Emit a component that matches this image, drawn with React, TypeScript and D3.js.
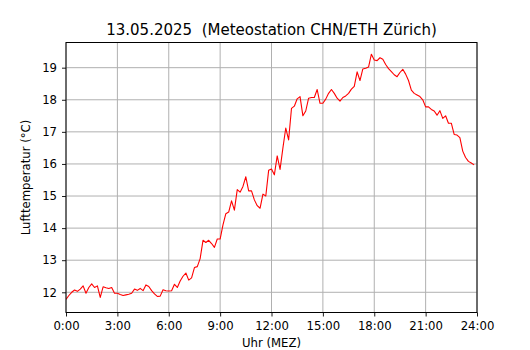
import React, { useRef, useEffect } from "react";
import * as d3 from "d3";

const WIDTH = 530;
const HEIGHT = 350;
const MARGIN = { top: 42.5, right: 53, bottom: 37.5, left: 66 };

const TITLE = "13.05.2025  (Meteostation CHN/ETH Zürich)";
const X_LABEL = "Uhr (MEZ)";
const Y_LABEL = "Lufttemperatur (°C)";

// 10-minute readings starting at 0:00
const STEP_MINUTES = 10;
const temperature = [
  11.78, 11.9, 12.0, 12.07, 12.03, 12.1, 12.2, 11.97, 12.15, 12.26, 12.15, 12.2,
  11.84, 12.17, 12.14, 12.12, 12.15, 11.97, 11.97, 11.93, 11.9, 11.92, 11.94, 11.97,
  12.1, 12.06, 12.12, 12.05, 12.23, 12.18, 12.05, 11.95, 11.87, 11.88, 12.08, 12.05,
  12.04, 12.05, 12.25, 12.15, 12.35, 12.5, 12.6, 12.38, 12.45, 12.77, 12.8, 13.05,
  13.62, 13.55, 13.62, 13.52, 13.4, 13.66, 13.66, 14.1, 14.45, 14.5, 14.85, 14.56,
  15.2, 15.12, 15.3, 15.6, 15.16, 15.16, 14.88, 14.7, 14.62, 15.06, 15.0, 15.8,
  15.84, 15.66, 16.25, 15.83, 16.5, 17.12, 16.75, 17.73, 17.8, 18.03, 18.1, 17.5,
  17.65, 18.05, 18.07, 18.07, 18.32, 17.89, 17.89, 18.02, 18.2, 18.32, 18.2, 18.05,
  17.96, 18.07, 18.12, 18.2, 18.33, 18.42, 18.87, 18.6, 18.96, 18.98, 19.02, 19.42,
  19.24, 19.22, 19.31, 19.26, 19.1, 18.97, 18.88, 18.78, 18.72, 18.85, 18.95, 18.8,
  18.6, 18.3, 18.2, 18.15, 18.1, 18.0, 17.78, 17.78, 17.7, 17.65, 17.52, 17.66,
  17.42, 17.5, 17.27, 17.27, 16.92, 16.9, 16.82, 16.4, 16.2, 16.08, 16.03, 15.97,
];

const xTicks = [0, 3, 6, 9, 12, 15, 18, 21, 24];
const yTicks = [12, 13, 14, 15, 16, 17, 18, 19];
const X_DOMAIN = [0, 24];
const Y_DOMAIN = [11.37, 19.785];

const FONT = "'DejaVu Sans', sans-serif";

export default function App() {
  const ref = useRef<SVGSVGElement>(null);

  useEffect(() => {
    const root = d3.select(ref.current);
    root.selectAll("*").remove();

    const innerWidth = WIDTH - MARGIN.left - MARGIN.right;
    const innerHeight = HEIGHT - MARGIN.top - MARGIN.bottom;

    const x = d3.scaleLinear().domain(X_DOMAIN).range([0, innerWidth]);
    const y = d3.scaleLinear().domain(Y_DOMAIN).range([innerHeight, 0]);

    root
      .append("rect")
      .attr("width", WIDTH)
      .attr("height", HEIGHT)
      .attr("fill", "#ffffff");

    const g = root
      .append("g")
      .attr("transform", `translate(${MARGIN.left},${MARGIN.top})`);

    // grid
    g.append("g")
      .selectAll("line")
      .data(xTicks)
      .join("line")
      .attr("x1", (d) => x(d))
      .attr("x2", (d) => x(d))
      .attr("y1", 0)
      .attr("y2", innerHeight)
      .attr("stroke", "#b0b0b0")
      .attr("stroke-width", 1);
    g.append("g")
      .selectAll("line")
      .data(yTicks)
      .join("line")
      .attr("x1", 0)
      .attr("x2", innerWidth)
      .attr("y1", (d) => y(d))
      .attr("y2", (d) => y(d))
      .attr("stroke", "#b0b0b0")
      .attr("stroke-width", 1);

    // data line
    g.append("defs")
      .append("clipPath")
      .attr("id", "plotClip")
      .append("rect")
      .attr("width", innerWidth)
      .attr("height", innerHeight);

    const tempLine = d3
      .line<number>()
      .x((d, i) => x((i * STEP_MINUTES) / 60))
      .y((d) => y(d));
    g.append("path")
      .datum(temperature)
      .attr("clip-path", "url(#plotClip)")
      .attr("fill", "none")
      .attr("stroke", "#ff0000")
      .attr("stroke-width", 1.1)
      .attr("stroke-linejoin", "round")
      .attr("d", tempLine);

    // axes
    const xAxis = d3
      .axisBottom(x)
      .tickValues(xTicks)
      .tickFormat((d) => `${d}:00`)
      .tickSize(4)
      .tickPadding(5);
    const yAxis = d3
      .axisLeft(y)
      .tickValues(yTicks)
      .tickSize(4)
      .tickPadding(5);

    const gx = g
      .append("g")
      .attr("transform", `translate(0,${innerHeight})`)
      .call(xAxis);
    const gy = g.append("g").call(yAxis);
    [gx, gy].forEach((ax) => {
      ax.select(".domain").remove();
      ax.selectAll("line").attr("stroke", "#000").attr("stroke-width", 0.9);
      ax.selectAll("text")
        .attr("fill", "#000")
        .style("font-family", FONT)
        .style("font-size", "11.7px");
    });

    // frame
    g.append("rect")
      .attr("width", innerWidth)
      .attr("height", innerHeight)
      .attr("fill", "none")
      .attr("stroke", "#000")
      .attr("stroke-width", 1);

    // labels
    root
      .append("text")
      .attr("x", MARGIN.left + innerWidth / 2)
      .attr("y", 35)
      .attr("text-anchor", "middle")
      .style("font-family", FONT)
      .style("font-size", "15px")
      .style("white-space", "pre")
      .text(TITLE);
    root
      .append("text")
      .attr("x", MARGIN.left + innerWidth / 2)
      .attr("y", 347)
      .attr("text-anchor", "middle")
      .style("font-family", FONT)
      .style("font-size", "11.7px")
      .text(X_LABEL);
    root
      .append("text")
      .attr("transform", `translate(30,${MARGIN.top + innerHeight / 2}) rotate(-90)`)
      .attr("text-anchor", "middle")
      .style("font-family", FONT)
      .style("font-size", "11.7px")
      .text(Y_LABEL);
  }, []);

  return (
    <svg
      ref={ref}
      width={WIDTH}
      height={HEIGHT}
      style={{ position: "absolute", left: 0, top: 0, display: "block" }}
    />
  );
}
